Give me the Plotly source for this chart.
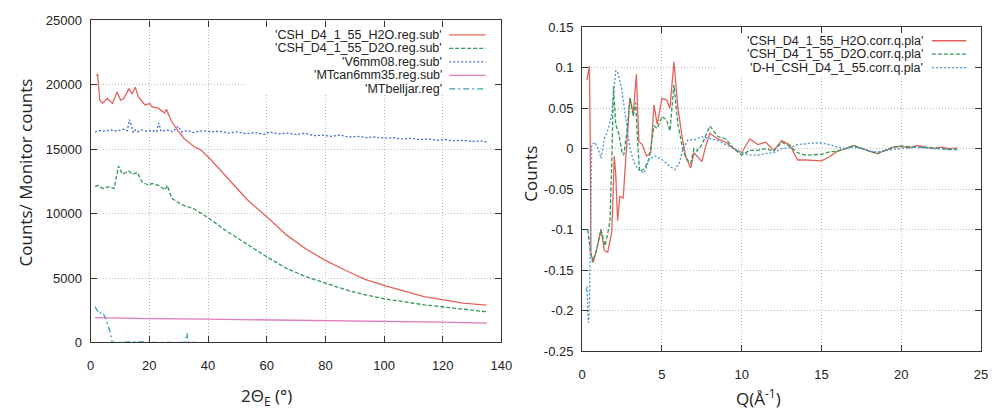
import plotly.graph_objects as go

# ---------------- data: left panel (2Theta scans) ----------------
h2o_x = [2.0, 2.35, 3.1, 4.0, 5.7, 7.4, 9.0, 10.2, 11.3, 13.0, 14.1, 15.2, 16.3, 18.5, 20.2, 20.8, 23.0, 25.2, 25.8, 27.5,
         29.7, 31.9, 35.3, 37.5, 40.9, 45.3, 53.3, 60.0, 66.7, 73.4, 80.1, 86.8, 93.5, 100.2, 106.9, 113.6, 120.3, 127.0, 134.9]
h2o_y = [20700, 20860, 18810, 18560, 18940, 18560, 19440, 18810, 18940, 19690, 19310, 19810, 19060, 18440, 18560, 18310, 18190, 17810, 18110, 17190,
         16440, 15820, 15190, 14950, 14200, 13080, 11100, 9750, 8350, 7250, 6350, 5600, 4900, 4400, 3950, 3550, 3300, 3050, 2900]

d2o_x = [1.5, 2.5, 4.1, 5.5, 6.4, 8.0, 9.5, 10.8, 13.0, 14.2, 15.9, 17.5, 19.8, 20.9, 23.0, 25.4, 26.1, 27.6, 31.0, 35.4,
         39.9, 46.6, 53.3, 60.0, 66.7, 73.4, 80.1, 86.8, 93.5, 100.2, 106.9, 113.6, 120.3, 127.0, 134.9]
d2o_y = [12100, 12200, 11950, 12050, 12100, 11950, 13700, 13050, 13300, 13050, 13200, 12450, 12200, 12350, 12200, 11850, 12200, 11200, 10700, 10350,
         9700, 8600, 7600, 6650, 5750, 5100, 4600, 4100, 3700, 3380, 3150, 2920, 2750, 2570, 2380]

v6_x = [1.5, 3, 5, 7, 9, 11, 12.5, 13.2, 13.8, 14.5, 15.2, 16, 17.5, 19, 21, 22.5, 23.2, 24, 26, 28,
        29.8, 31, 33, 35, 38, 41, 44, 47, 50, 53, 56, 59, 61, 64, 67, 70, 73, 76, 79, 82,
        85, 88, 91, 94, 97, 100, 103, 106, 109, 112, 115, 118, 121, 124, 127, 130, 133, 135]
v6_y = [16350, 16450, 16400, 16500, 16400, 16550, 16450, 17300, 16900, 16300, 16500, 16350, 16500, 16400, 16450, 16350, 17050, 16400, 16500, 16350,
        16800, 16350, 16450, 16300, 16450, 16350, 16400, 16250, 16350, 16200, 16300, 16150, 16350, 16200, 16250, 16150, 16250, 16050, 16100, 16000,
        16100, 15950, 16000, 15900, 15950, 15850, 15900, 15800, 15850, 15750, 15800, 15700, 15750, 15650, 15700, 15600, 15650, 15550]

can_x = [1.5, 10, 20, 40, 60, 80, 100, 120, 135]
can_y = [1920, 1880, 1850, 1800, 1750, 1700, 1650, 1580, 1500]

bell_x = [1.45, 2.2, 2.9, 3.6, 4.2, 5.1, 6.3, 6.8, 7.1, 7.4, 10, 13, 18, 19, 32.2, 32.8, 33.3, 36]
bell_y = [2790, 2500, 2220, 2350, 2300, 1850, 1100, 700, 220, 0, 0, 40, 40, 0, 0, 725, 0, 0]

left_names = ["'CSH_D4_1_55_H2O.reg.sub'", "'CSH_D4_1_55_D2O.reg.sub'", "'V6mm08.reg.sub'",
              "'MTcan6mm35.reg.sub'", "'MTbelljar.reg'"]
left_xticks = [0, 20, 40, 60, 80, 100, 120, 140]
left_yticks = [0, 5000, 10000, 15000, 20000, 25000]
left_yticktext = ["0", "5000", "10000", "15000", "20000", "25000"]

# ---------------- data: right panel (Q) ----------------
h2oq_x = [0.3, 0.45, 0.5, 0.55, 0.7, 0.9, 1.18, 1.39, 1.6, 1.85, 1.95, 2.01, 2.1, 2.22, 2.36, 2.57, 2.72, 2.99, 3.2, 3.4,
          3.55, 3.76, 4.03, 4.3, 4.5, 4.7, 5.0, 5.3, 5.5, 5.75, 6.0, 6.3, 6.5, 6.8, 7.0, 7.5, 7.7, 8.0, 8.5, 9.0,
          9.5, 10.0, 10.5, 11.0, 11.5, 12.0, 12.5, 13.0, 13.5, 14.0, 15.0, 15.5, 16.0, 16.5, 17.0, 17.5, 18.0, 18.5, 19.0, 19.5,
          20.0, 20.5, 21.0, 21.5, 22.0, 22.5, 23.0, 23.5]
h2oq_y = [0.085, 0.102, 0.02, -0.13, -0.14, -0.125, -0.10, -0.126, -0.128, -0.103, -0.05, -0.009, -0.03, -0.089, -0.059, -0.061, -0.016, 0.0625, 0.043, 0.092,
          0.009, 0.005, -0.009, -0.005, 0.054, 0.03, 0.062, 0.06, 0.05, 0.107, 0.05, 0.01, -0.01, -0.024, -0.005, -0.016, 0.0, 0.019, 0.012, 0.008,
          0.0, -0.005, 0.012, 0.005, 0.008, -0.002, 0.01, 0.005, -0.014, -0.014, -0.015, -0.01, -0.003, 0.0, 0.004, 0.0, -0.003, -0.006, -0.002, 0.002,
          0.003, 0.001, 0.004, 0.002, 0.0, 0.002, 0.0, 0.001]

d2oq_x = [0.35, 0.5, 0.65, 0.9, 1.18, 1.43, 1.6, 1.74, 1.85, 1.96, 2.1, 2.3, 2.5, 2.6, 2.8, 3.0, 3.2, 3.35, 3.5, 3.6,
          3.9, 4.2, 4.5, 4.7, 5.0, 5.3, 5.5, 5.75, 6.0, 6.3, 6.5, 6.8, 7.0, 7.2, 7.5, 8.0, 8.5, 9.0, 9.5, 10.0,
          10.5, 11.0, 11.5, 12.0, 12.5, 13.0, 13.5, 14.0, 15.0, 15.5, 16.0, 16.5, 17.0, 17.5, 18.0, 18.5, 19.0, 19.5, 20.0, 21.0,
          22.0, 23.0, 23.5]
d2oq_y = [-0.10, -0.125, -0.14, -0.125, -0.10, -0.12, -0.105, -0.09, -0.02, 0.077, 0.03, 0.018, -0.005, -0.008, 0.02, 0.063, 0.04, 0.057, 0.0, -0.028,
          -0.025, -0.012, 0.028, 0.025, 0.04, 0.035, 0.022, 0.079, 0.03, 0.0, -0.012, -0.018, 0.0, -0.003, 0.005, 0.028, 0.015, 0.012, 0.0, -0.008,
          -0.002, -0.002, 0.0, -0.003, 0.008, 0.003, -0.005, -0.008, -0.007, -0.004, -0.003, 0.0, 0.004, 0.0, -0.003, -0.006, -0.002, 0.002, 0.003, 0.002,
          0.001, -0.001, -0.001]

dh_x = [0.25, 0.3, 0.35, 0.4, 0.45, 0.5, 0.6, 0.8, 1.0, 1.18, 1.4, 1.65, 1.85, 2.1, 2.2, 2.46, 2.67, 2.99, 3.3, 3.6,
        3.9, 4.2, 4.55, 4.97, 5.38, 5.8, 6.1, 6.32, 6.63, 7.05, 7.46, 7.88, 8.5, 9.0, 9.5, 10.0, 10.5, 11.0, 11.5, 12.0,
        12.5, 13.0, 13.5, 14.0, 14.5, 15.0, 15.5, 16.0, 16.5, 17.0, 17.5, 18.0, 18.5, 19.0, 20.0, 21.0, 22.0, 23.0, 23.5]
dh_y = [-0.175, -0.17, -0.2, -0.215, -0.19, -0.1, 0.005, 0.008, 0.0, -0.012, 0.013, 0.025, 0.043, 0.096, 0.096, 0.076, 0.047, 0.0, -0.02, -0.027,
        -0.03, -0.013, -0.009, -0.013, -0.02, -0.026, -0.017, 0.0, 0.011, 0.011, 0.015, 0.013, 0.01, 0.005, 0.0, -0.005, -0.008, -0.008, -0.006, -0.005,
        0.0, 0.001, 0.005, 0.006, 0.007, 0.007, 0.005, 0.002, 0.0, 0.002, 0.0, -0.003, -0.004, -0.002, 0.0, 0.002, 0.0, -0.001, -0.001]

right_names = ["'CSH_D4_1_55_H2O.corr.q.pla'", "'CSH_D4_1_55_D2O.corr.q.pla'", "'D-H_CSH_D4_1_55.corr.q.pla'"]
right_xticks = [0, 5, 10, 15, 20, 25]
right_yticks = [-0.25, -0.2, -0.15, -0.1, -0.05, 0, 0.05, 0.1, 0.15]
right_yticktext = ["-0.25", "-0.2", "-0.15", "-0.1", "-0.05", "0", "0.05", "0.1", "0.15"]

# ---------------- styles ----------------
RED = "#e3625c"
GREEN = "#34985a"
BLUE = "#3b6cc4"
PINK = "#e07cc0"
CYAN = "#38a2b6"
DHBLUE = "#4a94d0"

DASH = "4px,2px"
DOT = "2px,2px"
DASHDOT = "6px,3px,2px,3px"

left_styles = [(RED, "solid"), (GREEN, DASH), (BLUE, DOT), (PINK, "solid"), (CYAN, DASHDOT)]
right_styles = [(RED, "solid"), (GREEN, DASH), (DHBLUE, DOT)]

W, H = 999, 414

fig = go.Figure()
left_data = [(h2o_x, h2o_y), (d2o_x, d2o_y), (v6_x, v6_y), (can_x, can_y), (bell_x, bell_y)]
for (xs, ys), name, (c, d) in zip(left_data, left_names, left_styles):
    fig.add_trace(go.Scatter(x=xs, y=ys, name=name, mode="lines", xaxis="x", yaxis="y",
                             line=dict(color=c, dash=d, width=1.3), showlegend=False))
right_data = [(h2oq_x, h2oq_y), (d2oq_x, d2oq_y), (dh_x, dh_y)]
for (xs, ys), name, (c, d) in zip(right_data, right_names, right_styles):
    fig.add_trace(go.Scatter(x=xs, y=ys, name=name, mode="lines", xaxis="x2", yaxis="y2",
                             line=dict(color=c, dash=d, width=1.3), showlegend=False))

tickfont = dict(family="Liberation Sans, Arial, sans-serif", size=13, color="#222")
axis_common = dict(showline=True, linecolor="#333", linewidth=1.2, mirror="ticks",
                   ticks="inside", ticklen=6, tickcolor="#333", showgrid=True,
                   gridcolor="#bdbdbd", griddash="1px,2px", gridwidth=1, zeroline=False,
                   tickfont=tickfont)

def py(p):
    return 1 - p / H

def px(p):
    return p / W

fig.update_layout(
    width=W, height=H, margin=dict(l=0, r=0, t=0, b=0),
    paper_bgcolor="white", plot_bgcolor="white",
    xaxis=dict(domain=[px(88), px(505)], range=[0, 140], tickvals=left_xticks, anchor="y",
               ticklabelstandoff=11, **axis_common),
    yaxis=dict(domain=[py(348), py(14)], range=[0, 25000], tickvals=left_yticks, ticktext=left_yticktext,
               anchor="x", ticklabelstandoff=5, **axis_common),
    xaxis2=dict(domain=[px(587), px(992)], range=[0, 25], tickvals=right_xticks, anchor="y2",
                ticklabelstandoff=11, **axis_common),
    yaxis2=dict(domain=[py(357), py(21)], range=[-0.25, 0.15], tickvals=right_yticks, ticktext=right_yticktext,
                anchor="x2", ticklabelstandoff=5, **axis_common),
)

# white legend boxes hiding gridlines (like gnuplot key box)
fig.add_shape(type="rect", xref="x", yref="y", x0=53, x1=140, y0=19300, y1=25000,
              fillcolor="white", line=dict(width=0), layer="between")
fig.add_shape(type="rect", xref="x2", yref="y2", x0=8.4, x1=25, y0=0.088, y1=0.15,
              fillcolor="white", line=dict(width=0), layer="between")

legfont = dict(family="Liberation Sans, Arial, sans-serif", size=12.5, color="#222")
left_rows = [29, 43, 57, 71, 85]
for name, (c, d), ry in zip(left_names, left_styles, left_rows):
    fig.add_annotation(text=name, xref="paper", yref="paper", x=px(446), y=py(ry), height=14, borderpad=0,
                       xanchor="right", yanchor="middle", showarrow=False, font=legfont)
    fig.add_shape(type="line", xref="paper", yref="paper", x0=px(452), x1=px(489), y0=py(ry), y1=py(ry),
                  line=dict(color=c, dash=d, width=1.3))
right_rows = [35, 49, 63]
for name, (c, d), ry in zip(right_names, right_styles, right_rows):
    fig.add_annotation(text=name, xref="paper", yref="paper", x=px(934), y=py(ry), height=14, borderpad=0,
                       xanchor="right", yanchor="middle", showarrow=False, font=legfont)
    fig.add_shape(type="line", xref="paper", yref="paper", x0=px(942), x1=px(977), y0=py(ry), y1=py(ry),
                  line=dict(color=c, dash=d, width=1.3))

titlefont = dict(family="Open Sans, Noto Sans, sans-serif", size=17, color="#222")
fig.add_annotation(text="Counts/ Monitor counts", xref="paper", yref="paper", x=px(22), y=py(172),
                   textangle=-90, xanchor="center", yanchor="middle", showarrow=False, font=titlefont)
fig.add_annotation(text="Counts", xref="paper", yref="paper", x=px(535), y=py(173),
                   textangle=-90, xanchor="center", yanchor="middle", showarrow=False, font=titlefont)
fig.add_annotation(text="2Θ<sub>E</sub> (°)", xref="paper", yref="paper", x=px(267), y=py(404),
                   xanchor="center", yanchor="middle", showarrow=False, font=titlefont)
fig.add_annotation(text="Q(Å<sup>-1</sup>)", xref="paper", yref="paper", x=px(766), y=py(405),
                   xanchor="center", yanchor="middle", showarrow=False, font=titlefont)

fig.write_html("out.html")
